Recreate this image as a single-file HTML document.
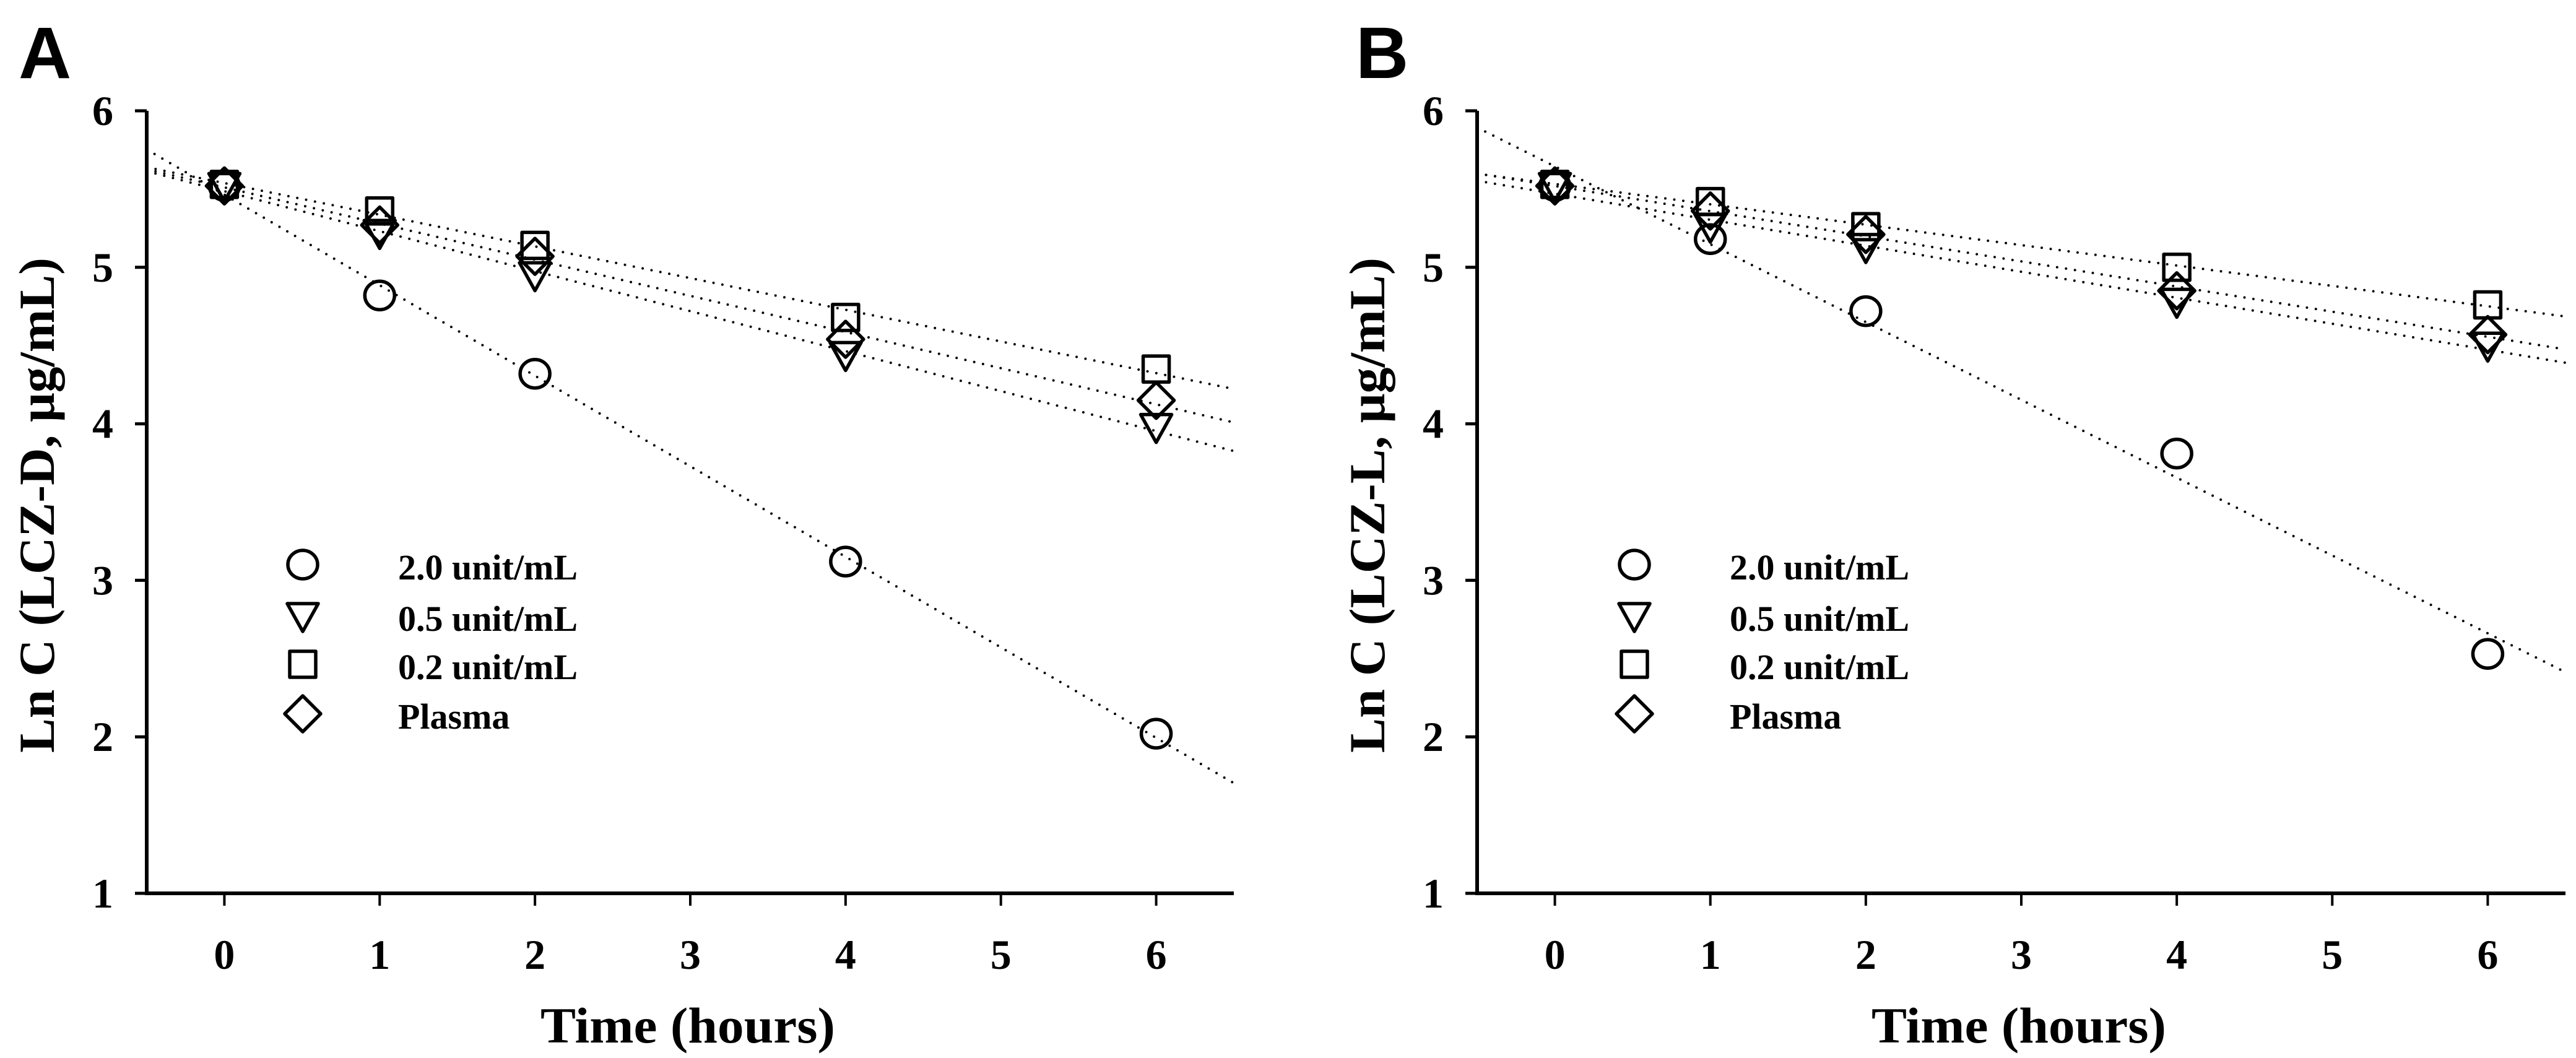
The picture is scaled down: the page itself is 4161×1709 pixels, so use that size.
<!DOCTYPE html>
<html><head><meta charset="utf-8"><style>
html,body{margin:0;padding:0;background:#fff;}
svg{display:block;}
text{font-family:"Liberation Serif",serif;font-weight:bold;fill:#000;}
</style></head><body>
<svg id="fig" width="4161" height="1709" viewBox="0 0 4161 1709" xmlns="http://www.w3.org/2000/svg"></svg>
<script>
// Shared data
const times = [0, 1, 2, 4, 6];
const xTicks = [0, 1, 2, 3, 4, 5, 6];
const yTicks = [1, 2, 3, 4, 5, 6];
const seriesNames = ["2.0 unit/mL", "0.5 unit/mL", "0.2 unit/mL", "Plasma"];
const seriesKeys = ["circle", "triangle", "square", "diamond"];
// Panel A (LCZ-D)
const aCircle = [5.52, 4.82, 4.32, 3.12, 2.02];
const aTriangle = [5.52, 5.22, 4.95, 4.44, 3.98];
const aSquare = [5.53, 5.36, 5.14, 4.68, 4.35];
const aDiamond = [5.52, 5.27, 5.07, 4.54, 4.15];
// Panel B (LCZ-L)
const bCircle = [5.52, 5.18, 4.72, 3.81, 2.53];
const bTriangle = [5.52, 5.26, 5.13, 4.78, 4.50];
const bSquare = [5.53, 5.42, 5.26, 5.00, 4.76];
const bDiamond = [5.52, 5.36, 5.21, 4.85, 4.57];

const NS = "http://www.w3.org/2000/svg";
const svg = document.getElementById("fig");
function mk(tag, attrs, parent) {
  const e = document.createElementNS(NS, tag);
  for (const k in attrs) e.setAttribute(k, attrs[k]);
  (parent || svg).appendChild(e);
  return e;
}
function fit(xs, ys) {
  const n = xs.length;
  const mx = xs.reduce((a, b) => a + b, 0) / n, my = ys.reduce((a, b) => a + b, 0) / n;
  let sxy = 0, sxx = 0;
  for (let i = 0; i < n; i++) { sxy += (xs[i] - mx) * (ys[i] - my); sxx += (xs[i] - mx) ** 2; }
  const m = sxy / sxx;
  return [m, my - m * mx];
}
function marker(g, kind, cx, cy) {
  const st = {fill: "none", stroke: "#000", "stroke-width": 5.5, "stroke-linejoin": "round"};
  let e;
  if (kind === "circle") e = mk("ellipse", Object.assign({cx: cx, cy: cy, rx: 24, ry: 23}, st), g);
  else if (kind === "triangle") e = mk("polygon", Object.assign({points: `${cx-25},${cy-20} ${cx+25},${cy-20} ${cx},${cy+25}`}, st), g);
  else if (kind === "square") e = mk("rect", Object.assign({x: cx - 21, y: cy - 21, width: 42, height: 42}, st), g);
  else e = mk("polygon", Object.assign({points: `${cx},${cy-29} ${cx+29},${cy} ${cx},${cy+29} ${cx-29},${cy}`}, st), g);
  return e;
}
function panel(opts) {
  const g = mk("g", {});
  
  
  const L = opts.left, R = opts.right, T = 179, B = 1443;
  const xMin = -0.5, xMax = 6.5, yMin = 1, yMax = 6;
  const sx = v => L + (v - xMin) / (xMax - xMin) * (R - L);
  const sy = v => B - (v - yMin) / (yMax - yMin) * (B - T);
  // panel letter
  const lt = mk("text", {x: opts.letterX, y: 126, "font-size": 118, style: "font-family:'Liberation Sans',sans-serif;font-weight:bold"}, g);
  lt.textContent = opts.letter;
  
  
  // axes
  const ax = mk("path", {d: `M${L},${T} V${B} H${R}`, fill: "none", stroke: "#000", "stroke-width": 6}, g);
  
  
  yTicks.forEach(v => {
    const t = mk("line", {x1: L - 19, x2: L, y1: sy(v), y2: sy(v), stroke: "#000", "stroke-width": 5}, g);
    
    
    const tl = mk("text", {x: L - 71, y: sy(v) + 23, "font-size": 68, "text-anchor": "middle"}, g);
    tl.textContent = v;
    
    
  });
  xTicks.forEach(v => {
    const t = mk("line", {x1: sx(v), x2: sx(v), y1: B, y2: B + 20, stroke: "#000", "stroke-width": 4}, g);
    
    
    const tl = mk("text", {x: sx(v), y: 1565, "font-size": 68, "text-anchor": "middle"}, g);
    tl.textContent = v;
    
    
  });
  const xt = mk("text", {x: (L + R) / 2 - 4, y: 1684, "font-size": 82, "text-anchor": "middle", textLength: 476, lengthAdjust: "spacingAndGlyphs"}, g);
  xt.textContent = "Time (hours)";
  
  
  const ytx = L - 150, yty = 816;
  const yt = mk("text", {x: ytx, y: yty, "font-size": 82, "text-anchor": "middle", transform: `rotate(-90 ${ytx} ${yty})`, textLength: 800, lengthAdjust: "spacingAndGlyphs"}, g);
  yt.textContent = opts.ytitle;
  
  
  // fit lines
  opts.series.forEach((ys, i) => {
    const [m, b] = fit(times, ys);
    const ln = mk("line", {x1: sx(xMin), y1: sy(m * xMin + b), x2: sx(xMax), y2: sy(m * xMax + b), stroke: "#000", "stroke-width": 4, "stroke-dasharray": "0 14.6", "stroke-linecap": "round"}, g);
    
    
  });
  // markers
  opts.series.forEach((ys, i) => {
    ys.forEach((v, j) => {
      const mkr = marker(g, seriesKeys[i], sx(times[j]), sy(v));
      
      
    });
  });
  // legend
  const lg = mk("g", {}, g);
  
  
  const rows = [912, 995, 1073, 1153];
  seriesNames.forEach((nm, i) => {
    const sm = marker(lg, seriesKeys[i], opts.legX, rows[i]);
    
    
    const tx = mk("text", {x: opts.legX + 154, y: rows[i] + 24, "font-size": 58}, lg);
    tx.textContent = nm;
    
    
  });
}
panel({name: "panel-a", letter: "A", letterX: 30, left: 237, right: 1993, legX: 489,
  ytitle: "Ln C (LCZ-D, \u03bcg/mL)", series: [aCircle, aTriangle, aSquare, aDiamond]});
panel({name: "panel-b", letter: "B", letterX: 2190, left: 2386, right: 4144, legX: 2640,
  ytitle: "Ln C (LCZ-L, \u03bcg/mL)", series: [bCircle, bTriangle, bSquare, bDiamond]});
</script>
</body></html>
